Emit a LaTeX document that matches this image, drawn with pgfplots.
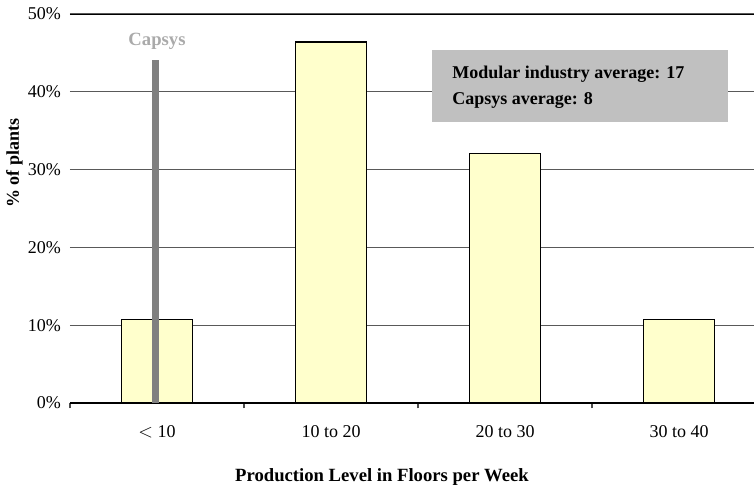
\documentclass[border=0pt]{standalone}
\usepackage{pgfplots}
\pgfplotsset{compat=1.18}
\usepackage{fontspec}
\setmainfont{Liberation Serif}
\definecolor{barfill}{RGB}{255,255,204}
\definecolor{capsys}{RGB}{128,128,128}
\definecolor{capsyslabel}{RGB}{170,170,170}
\definecolor{boxfill}{RGB}{192,192,192}
\begin{document}
\begin{tikzpicture}[x=0.75pt,y=0.75pt]
\useasboundingbox (-70,-84) rectangle (684,389+14);
\begin{axis}[
  at={(0,0)}, anchor=south west,
  scale only axis,
  width=513pt, height=291.75pt,
  xmin=-0.5, xmax=3.431,
  ymin=0, ymax=50,
  axis x line*=bottom, axis y line*=left,
  y axis line style={draw=none},
  x axis line style={draw=black, line width=0.8pt},
  xtick={0,1,2,3},
  xticklabels={{$<$ 10},{10 to 20},{20 to 30},{30 to 40}},
  major x tick style={draw=none},
  minor xtick={-0.5,0.5,1.5,2.5},
  minor x tick style={draw=black!70, line width=0.8pt},
  minor tick length=4pt,
  tick align=outside,
  ytick={0,10,...,50},
  yticklabel={\pgfmathprintnumber{\tick}\%},
  major y tick style={draw=none},
  ymajorgrids,
  grid style={draw=black!65, line width=0.8pt},
  tick label style={font=\fontsize{13.5}{15}\selectfont},
  /pgf/number format/assume math mode=true,
  xticklabel style={yshift=-9pt},
  yticklabel style={xshift=1pt},
  xlabel={\textbf{Production Level in Floors per Week}},
  xlabel style={font=\fontsize{14}{16}\selectfont, yshift=-16pt, xshift=-22.5pt},
  ylabel={\textbf{\% of plants}},
  ylabel style={font=\fontsize{13.5}{15}\selectfont, yshift=-3pt, xshift=34pt},
  clip=false,
]
\addplot[ybar, bar width=0.408, fill=barfill, draw=black, line width=0.8pt]
  coordinates {(0,10.7) (1,46.4) (2,32.1) (3,10.7)};
\addplot[capsys, line width=5.5pt, line cap=butt]
  coordinates {(-0.01,0) (-0.01,44.1)};
\draw[black, line width=0.7pt] (axis cs:-0.5,50) -- (axis cs:3.431,50);
\node[text=capsyslabel, font=\fontsize{14}{16}\selectfont\bfseries]
  at (axis cs:0,46.55) {Capsys};
\fill[boxfill] (axis cs:1.578,45.4) rectangle (axis cs:3.279,36.1);
\node[anchor=west, align=left, font=\fontsize{13.5}{20}\selectfont\bfseries]
  at (axis cs:1.670,40.6) {Modular industry average: 17\\Capsys average: 8};
\end{axis}
\end{tikzpicture}
\end{document}
